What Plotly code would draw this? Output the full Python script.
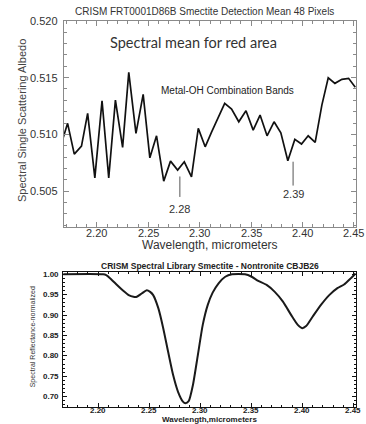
import plotly.graph_objects as go

# ---------------- data ----------------
wavelength_mean = [2.1648, 2.1715, 2.178, 2.185, 2.191, 2.198, 2.205, 2.2115, 2.218, 2.225,
                   2.231, 2.238, 2.245, 2.2515, 2.258, 2.265, 2.2716, 2.2785, 2.285, 2.292,
                   2.2986, 2.3053, 2.3116, 2.318, 2.3243, 2.331, 2.338, 2.345, 2.352, 2.3587,
                   2.3655, 2.3723, 2.3789, 2.3857, 2.3925, 2.399, 2.4055, 2.4123, 2.4188, 2.425,
                   2.4315, 2.4383, 2.4448, 2.4513]
albedo_mean = [0.5090, 0.51097, 0.50827, 0.50897, 0.51185, 0.50618, 0.51296, 0.50618, 0.51302, 0.50886,
               0.51546, 0.51009, 0.51352, 0.50794, 0.50988, 0.50589, 0.50765, 0.50686, 0.50759, 0.50627,
               0.51053, 0.50891, 0.51023, 0.51150, 0.51273, 0.51223, 0.51111, 0.51208, 0.51038, 0.51170,
               0.50988, 0.51111, 0.51014, 0.50768, 0.50956, 0.50915, 0.50988, 0.50930, 0.51258, 0.51498,
               0.51449, 0.51484, 0.51493, 0.51414]

wavelength_lib = [2.160, 2.205, 2.208, 2.212, 2.2186, 2.225, 2.230, 2.2347, 2.238, 2.2428,
                  2.2477, 2.251, 2.254, 2.259, 2.2638, 2.2686, 2.2735, 2.2783, 2.2831, 2.2855,
                  2.2887, 2.2929, 2.2977, 2.3025, 2.3074, 2.3122, 2.318, 2.3245, 2.331, 2.3439,
                  2.3504, 2.3568, 2.365, 2.373, 2.381, 2.3891, 2.3955, 2.3998, 2.4037, 2.410,
                  2.4182, 2.4263, 2.4343, 2.4408, 2.4473, 2.4521]
reflect_lib = [1.000, 1.000, 0.998, 0.990, 0.974, 0.959, 0.949, 0.945, 0.945, 0.953,
               0.961, 0.957, 0.949, 0.917, 0.868, 0.810, 0.753, 0.712, 0.688, 0.684,
               0.689, 0.729, 0.802, 0.876, 0.925, 0.955, 0.978, 0.994, 1.000, 1.000,
               0.994, 0.984, 0.974, 0.957, 0.933, 0.900, 0.876, 0.868, 0.873, 0.896,
               0.925, 0.949, 0.966, 0.975, 0.990, 1.002]

x_ticks = [2.20, 2.25, 2.30, 2.35, 2.40, 2.45]
x_ticklabels = ["2.20", "2.25", "2.30", "2.35", "2.40", "2.45"]
top_yticks = [0.505, 0.510, 0.515, 0.520]
top_yticklabels = ["0.505", "0.510", "0.515", "0.520"]
bot_yticks = [0.70, 0.75, 0.80, 0.85, 0.90, 0.95, 1.00]
bot_yticklabels = ["0.70", "0.75", "0.80", "0.85", "0.90", "0.95", "1.00"]

band_labels = ["2.28", "2.39"]
band_x = [2.2807, 2.3908]
band_line_top = [0.5063, 0.5076]
band_line_bottom = [0.5045, 0.5055]
band_label_y = [0.5034, 0.5048]

# ---------------- figure ----------------
W, H = 366, 424
FONT = "Liberation Sans, Arial, sans-serif"
fig = go.Figure()

fig.add_trace(go.Scatter(x=wavelength_mean, y=albedo_mean, mode="lines",
                         line=dict(color="#111111", width=1.7),
                         xaxis="x", yaxis="y", showlegend=False))
fig.add_trace(go.Scatter(x=wavelength_lib, y=reflect_lib, mode="lines",
                         line=dict(color="#1a1a1a", width=2, shape="spline", smoothing=0.6),
                         xaxis="x2", yaxis="y2", showlegend=False))


def px_x(p):
    return p / W


def px_y(p):
    return 1 - p / H


top_dom_x = [px_x(64), px_x(356)]
top_dom_y = [px_y(226.5), px_y(20.7)]
bot_dom_x = [px_x(63.3), px_x(356)]
bot_dom_y = [px_y(406.7), px_y(271.7)]

top_axis_common = dict(showline=True, linecolor="#8a8a8a", linewidth=1, mirror="ticks",
                       ticks="inside", tickcolor="#8a8a8a", ticklen=5, showgrid=False,
                       zeroline=False, showticklabels=False)
bot_axis_common = dict(showline=True, linecolor="#111111", linewidth=1.2, mirror="ticks",
                       ticks="inside", tickcolor="#111111", ticklen=4, showgrid=False,
                       zeroline=False, showticklabels=False)
fig.update_layout(
    width=W, height=H, margin=dict(l=0, r=0, t=0, b=0),
    paper_bgcolor="white", plot_bgcolor="white",
    xaxis=dict(domain=top_dom_x, anchor="y", range=[2.168, 2.452], tickvals=x_ticks,
               minor=dict(dtick=0.01, tick0=2.2, ticks="inside", ticklen=3, tickcolor="#8a8a8a"),
               **top_axis_common),
    yaxis=dict(domain=top_dom_y, anchor="x", range=[0.5019, 0.5200], tickvals=top_yticks,
               minor=dict(dtick=0.001, tick0=0.5, ticks="inside", ticklen=3, tickcolor="#8a8a8a"),
               **top_axis_common),
    xaxis2=dict(domain=bot_dom_x, anchor="y2", range=[2.166, 2.4525], tickvals=x_ticks,
                minor=dict(dtick=0.01, tick0=2.2, ticks="inside", ticklen=2, tickcolor="#111111"),
                **bot_axis_common),
    yaxis2=dict(domain=bot_dom_y, anchor="x2", range=[0.6755, 1.0064], tickvals=bot_yticks,
                minor=dict(dtick=0.01, tick0=0.7, ticks="inside", ticklen=2, tickcolor="#111111"),
                **bot_axis_common),
)

annotations = [
    dict(text="CRISM FRT0001D86B Smectite Detection Mean 48 Pixels", x=px_x(205), y=px_y(11.7),
         font=dict(family=FONT, size=10, color="#333333")),
    dict(text="Spectral Single Scattering Albedo", x=px_x(22), y=px_y(121), textangle=-90,
         font=dict(family=FONT, size=11, color="#444444")),
    dict(text="Wavelength, micrometers", x=px_x(209.5), y=px_y(244.5),
         font=dict(family=FONT, size=12, color="#333333")),
    dict(text="Spectral mean for red area", x=px_x(193.5), y=px_y(42),
         font=dict(family="Lato, sans-serif", size=14.5, color="#333333")),
    dict(text="Metal-OH Combination Bands", x=px_x(227), y=px_y(90.7),
         font=dict(family=FONT, size=10, color="#222222")),
    dict(text="CRISM Spectral Library Smectite - Nontronite CBJB26", x=px_x(210), y=px_y(266),
         font=dict(family=FONT, size=8.5, color="#222222", weight="bold")),
    dict(text="Spectral Reflectance-normalized", x=px_x(33), y=px_y(337.3), textangle=-90,
         font=dict(family=FONT, size=7, color="#333333")),
    dict(text="Wavelength,micrometers", x=px_x(209.8), y=px_y(419.5),
         font=dict(family=FONT, size=8, color="#222222", weight="bold")),
]
for a in annotations:
    a.update(xref="paper", yref="paper", showarrow=False, xanchor="center", yanchor="middle")

# tick labels as text placed through the axes
for v, lab in zip(x_ticks, x_ticklabels):
    annotations.append(dict(text=lab, x=v, xref="x", y=px_y(233.3), yref="paper",
                            showarrow=False, xanchor="center", yanchor="middle",
                            font=dict(family=FONT, size=11, color="#333333")))
    annotations.append(dict(text=lab, x=v, xref="x2", y=px_y(410.8), yref="paper",
                            showarrow=False, xanchor="center", yanchor="middle",
                            font=dict(family=FONT, size=8, color="#222222", weight="bold")))
for v, lab in zip(top_yticks, top_yticklabels):
    annotations.append(dict(text=lab, x=px_x(60), xref="paper", y=v, yref="y",
                            showarrow=False, xanchor="right", yanchor="middle",
                            font=dict(family=FONT, size=11, color="#333333")))
for v, lab in zip(bot_yticks, bot_yticklabels):
    annotations.append(dict(text=lab, x=px_x(61), xref="paper", y=v, yref="y2",
                            showarrow=False, xanchor="right", yanchor="middle",
                            font=dict(family=FONT, size=8, color="#222222", weight="bold")))

for lab, bx, by in zip(band_labels, band_x, band_label_y):
    annotations.append(dict(text=lab, x=bx, y=by, xref="x", yref="y", showarrow=False,
                            xanchor="center", yanchor="middle",
                            font=dict(family=FONT, size=11, color="#333333")))
fig.update_layout(annotations=annotations)

for bx, yt, yb in zip(band_x, band_line_top, band_line_bottom):
    fig.add_shape(type="line", xref="x", yref="y", x0=bx, x1=bx, y0=yt, y1=yb,
                  line=dict(color="#555555", width=1))

fig.write_html("out.html")
